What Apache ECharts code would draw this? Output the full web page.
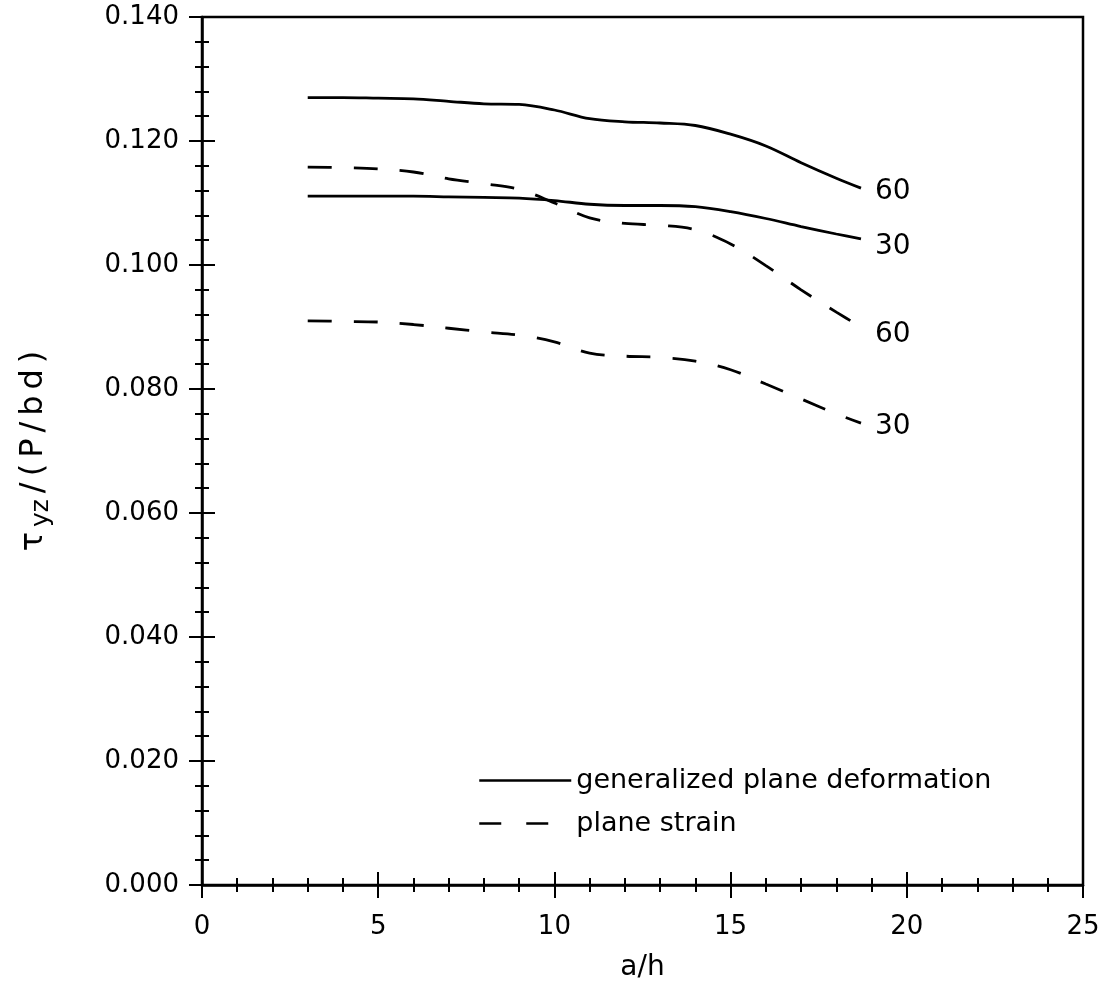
<!DOCTYPE html>
<html>
<head>
<meta charset="utf-8">
<script src="https://cdn.jsdelivr.net/npm/echarts@6/dist/echarts.min.js"></script>
<style>html,body{margin:0;padding:0;background:#fff}#c{width:1107px;height:992px}</style>
</head>
<body>
<div id="c"></div>
<script>
// a/h sample positions
var aOverH = [3, 4, 5, 6, 7, 8, 9, 10, 11, 12, 13, 14, 15, 16, 17, 18, 18.7];
// generalized plane deformation
var gpd60 = [0.1270, 0.1270, 0.1269, 0.1268, 0.1264, 0.1260, 0.1259, 0.1250, 0.1236, 0.1231, 0.1229, 0.1225, 0.1211, 0.1192, 0.1165, 0.1140, 0.1124];
var gpd30 = [0.1111, 0.1111, 0.1111, 0.1111, 0.1110, 0.1109, 0.1108, 0.1104, 0.1098, 0.1096, 0.1096, 0.1094, 0.1086, 0.1075, 0.1062, 0.1050, 0.1042];
// plane strain
var ps60 = [0.1158, 0.1157, 0.1155, 0.1150, 0.1139, 0.1131, 0.1122, 0.1100, 0.1076, 0.1067, 0.1064, 0.1057, 0.1034, 0.0999, 0.0960, 0.0924, 0.0900];
var ps30 = [0.0910, 0.0909, 0.0908, 0.0904, 0.0898, 0.0892, 0.0887, 0.0876, 0.0858, 0.0853, 0.0851, 0.0845, 0.0831, 0.0808, 0.0784, 0.0760, 0.0745];
var legendNames = ['generalized plane deformation', 'plane strain'];
var curveLabels = ['60', '30', '60', '30'];

function pairs(ys) { return aOverH.map(function (x, i) { return [x, ys[i]]; }); }

var FONT = 'DejaVu Sans';
var DASH = [24, 22];

function curve(name, ys, dashed, label, dy) {
  return {
    name: name, type: 'line', data: pairs(ys), smooth: 0.35, symbol: 'none', showSymbol: false,
    lineStyle: { color: '#000', width: 2.8, type: dashed ? DASH : 'solid' },
    itemStyle: { color: '#000' },
    endLabel: { show: true, formatter: label, distance: 14, offset: [0, dy], fontFamily: FONT, fontSize: 28, color: '#000' },
    emphasis: { disabled: true }, animation: false
  };
}

var chart = echarts.init(document.getElementById('c'), null, { renderer: 'canvas' });
var axisCommon = { color: '#000', width: 2.5 };
var tickStyle = { color: '#000', width: 2 };
var tPad = { fontFamily: FONT, fontSize: 32, color: '#000', padding: [0, 3, 0, 3] };
chart.setOption({
  animation: false,
  backgroundColor: '#fff',
  grid: { left: 202, right: 24, top: 17, bottom: 107, show: true, borderColor: '#000', borderWidth: 2.5 },
  legend: {
    orient: 'vertical', left: 478, top: 767, padding: 0, itemWidth: 92, itemHeight: 16, itemGap: 16,
    textStyle: { fontFamily: FONT, fontSize: 27, color: '#000' },
    data: [
      { name: legendNames[0], itemStyle: { opacity: 0 }, lineStyle: { type: 'solid', width: 2.5, color: '#000' } },
      { name: legendNames[1], itemStyle: { opacity: 0 }, lineStyle: { type: [22, 25], dashOffset: 0, width: 2.5, color: '#000' } }
    ],
    selectedMode: false
  },
  xAxis: [{
    type: 'value', min: 0, max: 25, interval: 5, position: 'bottom',
    name: 'a/h', nameLocation: 'middle', nameGap: 69,
    nameTextStyle: { fontFamily: FONT, fontSize: 28, color: '#000' },
    axisLine: { show: true, lineStyle: axisCommon },
    axisTick: { show: true, length: 13, lineStyle: tickStyle },
    minorTick: { show: true, splitNumber: 5, length: 7, lineStyle: tickStyle },
    splitLine: { show: false },
    axisLabel: { margin: 29, fontFamily: FONT, fontSize: 26, color: '#000' }
  }, {
    type: 'value', min: 0, max: 25, interval: 5, position: 'bottom', offset: 0,
    axisLine: { show: false },
    axisTick: { show: true, inside: true, length: 13, lineStyle: tickStyle },
    minorTick: { show: true, splitNumber: 5, length: 7, lineStyle: tickStyle },
    splitLine: { show: false }, axisLabel: { show: false }
  }],
  yAxis: [{
    type: 'value', min: 0, max: 0.14, interval: 0.02, position: 'left',
    name: '{t|τ}{s|yz}{t|/}{t|(}{t|P}{t|/}{t|b}{t|d}{t|)}', nameLocation: 'middle', nameRotate: 90, nameGap: 148,
    nameTextStyle: {
      color: '#000',
      rich: {
        t: tPad,
        s: { fontFamily: FONT, fontSize: 25, color: '#000', padding: [16, 3, 0, 2] }
      }
    },
    axisLine: { show: true, lineStyle: axisCommon },
    axisTick: { show: true, length: 13, lineStyle: tickStyle },
    minorTick: { show: true, splitNumber: 5, length: 7, lineStyle: tickStyle },
    splitLine: { show: false },
    axisLabel: { margin: 23, fontFamily: FONT, fontSize: 26, color: '#000', formatter: function (v) { return v.toFixed(3); } }
  }, {
    type: 'value', min: 0, max: 0.14, interval: 0.02, position: 'left', offset: 0,
    axisLine: { show: false },
    axisTick: { show: true, inside: true, length: 13, lineStyle: tickStyle },
    minorTick: { show: true, splitNumber: 5, length: 7, lineStyle: tickStyle },
    splitLine: { show: false }, axisLabel: { show: false }
  }],
  series: [
    curve(legendNames[0], gpd60, false, curveLabels[0], 4),
    curve(legendNames[0], gpd30, false, curveLabels[1], 8),
    curve(legendNames[1], ps60, true, curveLabels[2], 8),
    curve(legendNames[1], ps30, true, curveLabels[3], 4)
  ]
});
</script>
</body>
</html>
